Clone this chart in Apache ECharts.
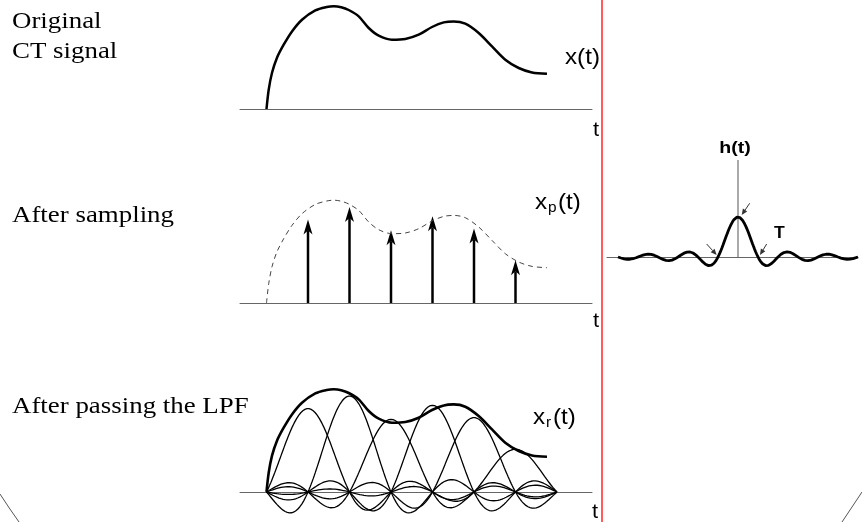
<!DOCTYPE html>
<html><head><meta charset="utf-8">
<script src="https://cdn.jsdelivr.net/npm/echarts@6/dist/echarts.min.js"></script>
<style>html,body{margin:0;padding:0;background:#fff}#c{width:862px;height:522px}</style>
</head><body><div id="c"></div>
<script>
// Continuous-time signal x(t), t in units of the sampling period T
const signalT = [0, 0.053, 0.133, 0.253, 0.414, 0.614, 0.855, 1.176, 1.45, 1.62, 1.80, 1.981, 2.222, 2.463, 2.704, 3.024, 3.345, 3.667, 3.988, 4.270, 4.511, 4.790, 5.113, 5.434, 5.754, 6.077, 6.398, 6.759];
const signalV = [0, 0.193, 0.363, 0.513, 0.643, 0.776, 0.893, 0.986, 1.02, 1.028, 1.018, 0.99, 0.926, 0.81, 0.733, 0.693, 0.70, 0.743, 0.82, 0.866, 0.876, 0.853, 0.76, 0.626, 0.493, 0.41, 0.366, 0.353];
// Samples x(nT)
const sampleT = [1, 2, 3, 4, 5, 6];
const sampleV = [0.834, 0.96, 0.727, 0.867, 0.744, 0.427];
// Reconstruction window (sinc pulses drawn over this t range)
const recRange = [0, 7];
// h(t) ideal LPF impulse response, drawn over t range (units of T)
const kernelRange = [-6, 6];
const kernelAxisTop = 2.425;
// small pointer arrows on h(t): [fromT, fromV, toT, toV]
const hArrows = [[0.583, 1.342, 0.183, 1.05], [-1.567, 0.325, -1.067, 0.05], [1.433, 0.325, 1.1, 0.05]];

const sinc = x => x === 0 ? 1 : Math.sin(Math.PI * x) / (Math.PI * x);
const signalData = signalT.map((t, i) => [t, signalV[i]]);
const sampleData = sampleT.map((t, i) => [t, sampleV[i]]);

const chart = echarts.init(document.getElementById('c'), null, {renderer: 'canvas'});

function xAx(idx, min, max) {
  return {type: 'value', gridIndex: idx, min: min, max: max,
    axisLine: {show: true, onZero: true, lineStyle: {color: '#666', width: 1}},
    axisTick: {show: false}, axisLabel: {show: false}, splitLine: {show: false}};
}
function yAx(idx, min, max) {
  return {type: 'value', gridIndex: idx, min: min, max: max,
    axisLine: {show: false}, axisTick: {show: false}, axisLabel: {show: false}, splitLine: {show: false}};
}

const series = [];
// Panel 1: original signal
series.push({type: 'line', xAxisIndex: 0, yAxisIndex: 0, data: signalData, smooth: 0.3, showSymbol: false, clip: false,
  lineStyle: {color: '#000', width: 2.5}, silent: true});
// Panel 2: dashed signal + impulses
series.push({type: 'line', xAxisIndex: 1, yAxisIndex: 1, data: signalData, smooth: 0.3, showSymbol: false, clip: false,
  lineStyle: {color: '#444', width: 1, type: [5, 4]}, silent: true});
series.push({type: 'custom', xAxisIndex: 1, yAxisIndex: 1, data: sampleData, silent: true,
  renderItem: function (params, api) {
    const base = api.coord([api.value(0), 0]);
    const tip = api.coord([api.value(0), api.value(1)]);
    const hw = 4.5, hh = 15, notch = 4;
    return {type: 'group', children: [
      {type: 'line', shape: {x1: base[0], y1: base[1], x2: tip[0], y2: tip[1] + hh - notch}, style: {stroke: '#000', lineWidth: 2.5}},
      {type: 'polygon', shape: {points: [[tip[0], tip[1]], [tip[0] + hw, tip[1] + hh], [tip[0], tip[1] + hh - notch], [tip[0] - hw, tip[1] + hh]]}, style: {fill: '#000'}}
    ]};
  }});
// Panel 3: sinc pulses and reconstructed envelope
sampleT.forEach((n, i) => {
  const d = [];
  const steps = 280;
  for (let k = 0; k <= steps; k++) {
    const t = recRange[0] + (recRange[1] - recRange[0]) * k / steps;
    d.push([t, sampleV[i] * sinc(t - n)]);
  }
  series.push({type: 'line', xAxisIndex: 2, yAxisIndex: 2, data: d, showSymbol: false, clip: false,
    lineStyle: {color: '#000', width: 1.3}, silent: true});
});
series.push({type: 'line', xAxisIndex: 2, yAxisIndex: 2, data: signalData, smooth: 0.3, showSymbol: false, clip: false,
  lineStyle: {color: '#000', width: 2.6}, silent: true});
// Right panel: h(t)
(function () {
  const d = [];
  const steps = 480;
  for (let k = 0; k <= steps; k++) {
    const t = kernelRange[0] + (kernelRange[1] - kernelRange[0]) * k / steps;
    d.push([t, sinc(t)]);
  }
  series.push({type: 'line', xAxisIndex: 3, yAxisIndex: 3, data: [[0, 0], [0, kernelAxisTop]], showSymbol: false, clip: false,
    lineStyle: {color: '#555', width: 1}, silent: true});
  series.push({type: 'line', xAxisIndex: 3, yAxisIndex: 3, data: d, showSymbol: false, clip: false,
    lineStyle: {color: '#000', width: 2.8}, silent: true});
})();
series.push({type: 'custom', xAxisIndex: 3, yAxisIndex: 3, data: hArrows, silent: true,
  renderItem: function (params, api) {
    const a = api.coord([api.value(0), api.value(1)]);
    const b = api.coord([api.value(2), api.value(3)]);
    const dx = b[0] - a[0], dy = b[1] - a[1];
    const L = Math.sqrt(dx * dx + dy * dy);
    const ux = dx / L, uy = dy / L, px = -uy, py = ux;
    const hl = 6, hw = 2.6;
    const bx = b[0] - ux * hl, by = b[1] - uy * hl;
    return {type: 'group', children: [
      {type: 'line', shape: {x1: a[0], y1: a[1], x2: bx, y2: by}, style: {stroke: '#333', lineWidth: 1}},
      {type: 'polygon', shape: {points: [[b[0], b[1]], [bx + px * hw, by + py * hw], [bx - px * hw, by - py * hw]]}, style: {fill: '#333'}}
    ]};
  }});

const serif = '"Liberation Serif", "Times New Roman", serif';
const sans = '"Liberation Sans", Arial, sans-serif';
function txt(text, x, y, size, family, opts) {
  opts = opts || {};
  return {type: 'text', x: x, y: y, scaleX: opts.sx || 1.12, silent: true,
    style: {text: text, font: (opts.bold ? 'bold ' : '') + size + 'px ' + family, fill: '#000',
      align: opts.align || 'left', verticalAlign: 'middle', textAlign: opts.align || 'left', textVerticalAlign: 'middle'}};
}

const graphics = [
  {type: 'line', silent: true, shape: {x1: 602, y1: 0, x2: 602, y2: 522}, style: {stroke: '#ff5c5c', lineWidth: 2}},
  {type: 'bezierCurve', silent: true, shape: {x1: 0, y1: 494, cpx1: 9, cpy1: 508, x2: 19, y2: 522}, style: {stroke: '#555', lineWidth: 1, fill: null}},
  {type: 'bezierCurve', silent: true, shape: {x1: 862, y1: 492, cpx1: 852, cpy1: 507, x2: 842, y2: 522}, style: {stroke: '#555', lineWidth: 1, fill: null}},
  txt('Original', 12, 22, 24, serif),
  txt('CT signal', 12, 52, 24, serif),
  txt('After sampling', 12, 216, 24, serif),
  txt('After passing the LPF', 12, 407, 24, serif),
  txt('x(t)', 565, 58, 22, sans, {sx: 1.1}),
  txt('t', 593, 130, 20, sans, {sx: 1.1}),
  txt('t', 593, 321, 20, sans, {sx: 1.1}),
  txt('t', 592, 512, 20, sans, {sx: 1.1}),
  txt('x', 535, 203, 22, sans, {sx: 1.1}),
  txt('p', 548, 208, 14, sans, {sx: 1.1}),
  txt('(t)', 558, 203, 22, sans, {sx: 1.1}),
  txt('x', 533, 418, 22, sans, {sx: 1.1}),
  txt('r', 546, 423, 14, sans, {sx: 1.1}),
  txt('(t)', 553, 418, 22, sans, {sx: 1.1}),
  txt('h(t)', 735, 148.5, 17, sans, {sx: 1.15, bold: true, align: 'center'}),
  txt('T', 774, 234, 16, sans, {sx: 1.1, bold: true})
];

const xMin = -0.6386, xMax = 7.8433;
chart.setOption({
  animation: false,
  backgroundColor: '#fff',
  grid: [
    {left: 240, width: 352, top: 0, height: 109},
    {left: 240, width: 352, top: 194, height: 109},
    {left: 240, width: 352, top: 383, height: 139},
    {left: 607, width: 251, top: 157, height: 120}
  ],
  xAxis: [xAx(0, xMin, xMax), xAx(1, xMin, xMax), xAx(2, xMin, xMax), xAx(3, -6.55, 6.0)],
  yAxis: [yAx(0, 0, 1.09), yAx(1, 0, 1.09), yAx(2, -0.3, 1.09), yAx(3, -0.5, 2.5)],
  series: series,
  graphic: graphics
});
</script></body></html>
